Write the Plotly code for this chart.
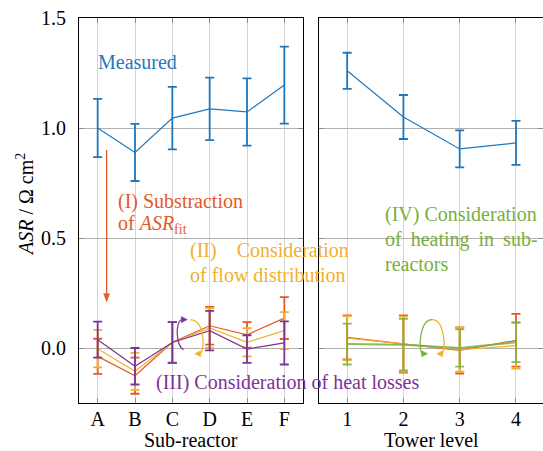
import plotly.graph_objects as go

# ---------------- data ----------------
sub_reactors = ["A", "B", "C", "D", "E", "F"]
tower_levels = ["1", "2", "3", "4"]

measured_sub = [1.000, 0.889, 1.045, 1.087, 1.073, 1.195]
measured_sub_err = [0.132, 0.130, 0.142, 0.142, 0.153, 0.175]
subtr_sub = [-0.038, -0.126, 0.026, 0.101, 0.060, 0.136]
subtr_sub_err = [0.080, 0.082, 0.093, 0.086, 0.058, 0.095]
flow_sub = [-0.003, -0.106, 0.025, 0.091, 0.026, 0.079]
flow_sub_err = [0.085, 0.084, 0.093, 0.090, 0.064, 0.084]
heatloss_sub = [0.038, -0.083, 0.025, 0.079, -0.005, 0.023]
heatloss_sub_err = [0.082, 0.083, 0.093, 0.090, 0.063, 0.098]

measured_tow = [1.260, 1.050, 0.905, 0.932]
measured_tow_err = [0.082, 0.100, 0.084, 0.100]
subtr_tow = [0.048, 0.018, -0.011, 0.035]
subtr_tow_err = [0.100, 0.130, 0.105, 0.120]
flow_tow = [0.045, 0.018, -0.008, 0.011]
flow_tow_err = [0.100, 0.125, 0.100, 0.105]
heating_tow = [0.018, 0.015, 0.000, 0.026]
heating_tow_err = [0.093, 0.117, 0.085, 0.090]

y_ticks = [0.0, 0.5, 1.0, 1.5]
y_ticktext = ["0.0", "0.5", "1.0", "1.5"]

# ---------------- style ----------------
BLUE = "#1f78be"
RED = "#e35a26"
YEL = "#f2b02c"
PUR = "#7d3296"
GRN = "#78af3c"
FONT = "Liberation Serif"
FS = 20

W, H = 543, 451
def px(x):
    return x / W
def py(y):
    return 1 - y / H

xs_sub = list(range(len(sub_reactors)))
xs_tow = list(range(1, len(tower_levels) + 1))

fig = go.Figure()

def add_series(x, y, err, color, xa, ya, lw=1.2, ew=1.8, opacity=1.0):
    fig.add_trace(go.Scatter(
        x=x, y=y, mode="lines", xaxis=xa, yaxis=ya,
        line=dict(color=color, width=lw), opacity=opacity,
        error_y=dict(type="data", array=err, visible=True, color=color,
                     thickness=ew, width=4.5),
        showlegend=False, hoverinfo="skip"))

add_series(xs_sub, measured_sub, measured_sub_err, BLUE, "x", "y")
add_series(xs_sub, subtr_sub, subtr_sub_err, RED, "x", "y")
add_series(xs_sub, flow_sub, flow_sub_err, YEL, "x", "y")
add_series(xs_sub, heatloss_sub, heatloss_sub_err, PUR, "x", "y")

add_series(xs_tow, measured_tow, measured_tow_err, BLUE, "x2", "y2")
add_series(xs_tow, subtr_tow, subtr_tow_err, RED, "x2", "y2")
add_series(xs_tow, flow_tow, flow_tow_err, YEL, "x2", "y2")
add_series(xs_tow, heating_tow, heating_tow_err, GRN, "x2", "y2", lw=2.0, opacity=0.85)

tickfont = dict(family=FONT, size=FS, color="black")
common_x = dict(showgrid=True, gridcolor="#d4d4d4", gridwidth=1,
                showline=True, linecolor="black", linewidth=1, mirror="ticks",
                ticks="inside", ticklen=5, tickcolor="#8c8c8c", tickwidth=1,
                zeroline=False, tickfont=tickfont, ticklabelstandoff=-2,
                automargin=False)
common_y = dict(showgrid=True, gridcolor="#b0b0b0", gridwidth=1,
                showline=True, linecolor="black", linewidth=1, mirror="ticks",
                ticks="inside", ticklen=5, tickcolor="#8c8c8c", tickwidth=1,
                zeroline=False, tickfont=tickfont, range=[-0.25, 1.5],
                tickvals=y_ticks, ticktext=y_ticktext, automargin=False)

fig.update_layout(
    template="none",
    font=dict(family=FONT, size=FS, color="black"),
    width=W, height=H, margin=dict(l=0, r=0, t=0, b=0, pad=0),
    paper_bgcolor="white", plot_bgcolor="white",
    xaxis=dict(domain=[px(79), px(303)], range=[-0.5, 5.5],
               tickvals=xs_sub, ticktext=sub_reactors, anchor="y", **common_x),
    yaxis=dict(domain=[py(403), py(18)], anchor="x", ticklabelstandoff=8, **common_y),
    xaxis2=dict(domain=[px(319), 1.0], range=[0.5, 4.48],
                tickvals=xs_tow, ticktext=tower_levels, anchor="y2", **common_x),
    yaxis2=dict(domain=[py(403), py(18)], anchor="x2", matches="y",
                showticklabels=False, **common_y),
)

ann = []
def txt(text, x, y, color, xref="x", yref="y", xanchor="left"):
    ann.append(dict(text=text, x=x, y=y, xref=xref, yref=yref, showarrow=False,
                    xanchor=xanchor, yanchor="middle",
                    font=dict(family=FONT, size=FS, color=color)))

txt("Measured", -0.05, 1.30, BLUE)
txt("(I) Substraction", 0.48, 0.666, RED)
txt("of <i>ASR</i><sub>fit</sub>", 0.48, 0.56, RED)
txt("(II)\u00a0\u00a0\u00a0\u00a0Consideration", 2.41, 0.444, YEL)
txt("of flow distribution", 2.41, 0.333, YEL)
txt("(III) Consideration of heat losses", 1.50, -0.157, PUR)
txt("(IV) Consideration", 1.63, 0.606, GRN, xref="x2", yref="y2")
txt("of\u2009 heating\u2009 in\u2009 sub-", 1.63, 0.495, GRN, xref="x2", yref="y2")
txt("reactors", 1.63, 0.382, GRN, xref="x2", yref="y2")

# axis titles
ann.append(dict(text="<i>ASR</i> / Ω cm<sup>2</sup>", x=px(25), y=py(205),
                xref="paper", yref="paper", showarrow=False, textangle=-90,
                xanchor="center", yanchor="middle",
                font=dict(family=FONT, size=FS, color="black")))
for title, cx in (("Sub-reactor", 191), ("Tower level", 431)):
    ann.append(dict(text=title, x=px(cx), y=0, xref="paper", yref="paper",
                    showarrow=False, xanchor="center", yanchor="bottom",
                    borderpad=0, yshift=-1,
                    font=dict(family=FONT, size=FS, color="black")))

fig.update_layout(annotations=ann)

def curve(path, color, xref="x", yref="y", w=1.2):
    return dict(type="path", xref=xref, yref=yref, path=path,
                line=dict(color=color, width=w))

def head(path, color, xref="x", yref="y"):
    return dict(type="path", xref=xref, yref=yref, path=path,
                fillcolor=color, line=dict(color=color, width=0.5))

shapes = [
    # (I) substraction arrow
    curve("M 0.24 0.90 L 0.24 0.24", RED, w=1.3),
    head("M 0.24 0.21 L 0.16 0.247 L 0.32 0.247 Z", RED),
    # loop between (II) and (III), left panel
    curve("M 2.30 -0.008 C 2.08 0.015 2.08 0.125 2.26 0.129", PUR),
    head("M 2.40 0.129 L 2.24 0.143 L 2.24 0.115 Z", PUR),
    curve("M 2.485 0.129 C 2.88 0.125 2.88 -0.017 2.74 -0.026", YEL),
    head("M 2.60 -0.026 L 2.76 -0.012 L 2.76 -0.040 Z", YEL),
    # loop between (II) and (IV), right panel
    curve("M 2.51 0.129 C 2.28 0.129 2.26 -0.017 2.34 -0.026", GRN, "x2", "y2"),
    head("M 2.43 -0.026 L 2.323 -0.012 L 2.323 -0.040 Z", GRN, "x2", "y2"),
    curve("M 2.51 0.129 C 2.74 0.129 2.76 -0.017 2.68 -0.026", YEL, "x2", "y2"),
    head("M 2.59 -0.026 L 2.697 -0.012 L 2.697 -0.040 Z", YEL, "x2", "y2"),
]
fig.update_layout(shapes=shapes)

fig.write_html("out.html", config={"displayModeBar": False},
               post_script="document.body.style.margin='0px';"
                           "document.body.style.overflow='hidden';")
